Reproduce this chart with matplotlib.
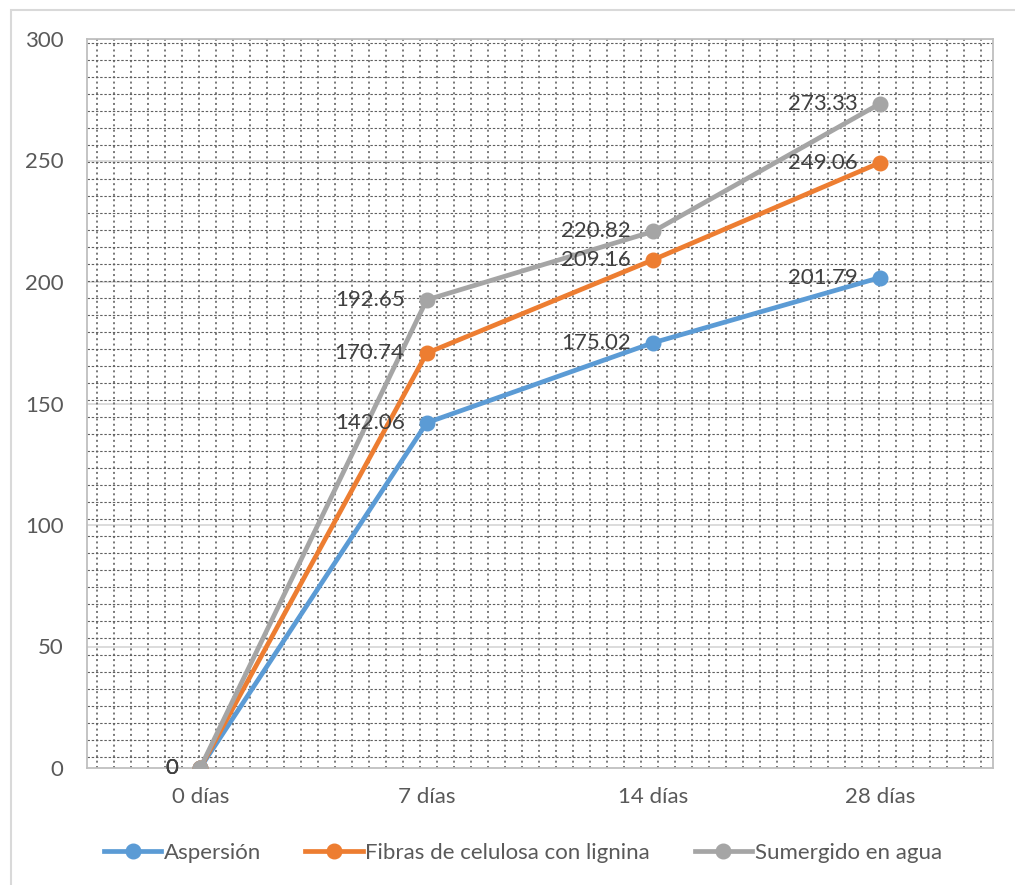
import numpy as np
import matplotlib.pyplot as plt
from matplotlib.patches import Rectangle
from matplotlib.lines import Line2D

plt.rcParams['font.family'] = ['Lato', 'DejaVu Sans']

# Compressive strength by curing method
categories = ["0 días", "7 días", "14 días", "28 días"]
aspersion = [0, 142.06, 175.02, 201.79]
fibras = [0, 170.74, 209.16, 249.06]
sumergido = [0, 192.65, 220.82, 273.33]

series = [
    ("Aspersión", aspersion, "#5B9BD5"),
    ("Fibras de celulosa con lignina", fibras, "#ED7D31"),
    ("Sumergido en agua", sumergido, "#A5A5A5"),
]

W, H = 1015, 885
fig = plt.figure(figsize=(W / 100, H / 100), dpi=100)
ax_left, ax_right, ax_top, ax_bottom = 87, 993, 39, 768
ax = fig.add_axes([ax_left / W, 1 - ax_bottom / H,
                   (ax_right - ax_left) / W, (ax_bottom - ax_top) / H])

# outer chart frame
fig.add_artist(Rectangle((11 / W, -0.1), 1.2, 1.1 - 9.5 / H,
                         transform=fig.transFigure, fill=False,
                         ec="#d9d9d9", lw=1.5))

x = np.arange(len(categories))
ax.set_xlim(-0.5, len(categories) - 0.5)
ax.set_ylim(0, 300)
ax.set_yticks(np.arange(0, 301, 50))
ax.set_xticks(x)
ax.set_xticklabels(categories)

# major gridlines
for yv in np.arange(50, 301, 50):
    ax.axhline(yv, color="#d9d9d9", lw=1.3, zorder=1)

# dotted-grid pattern fill of the plot area (17 px cells)
cell = 17.0
aw, ah = ax_right - ax_left, ax_bottom - ax_top
for px in np.arange(10, aw, cell):
    ax.plot([px / aw, px / aw], [0, 1], transform=ax.transAxes,
            color="#555555", lw=1.1, ls=(0, (1.3, 2.2)), zorder=2)
for py in np.arange(11, ah, cell):
    ax.plot([0, 1], [py / ah, py / ah], transform=ax.transAxes,
            color="#606060", lw=0.8, ls=(0, (2.2, 1.6)), zorder=2)

for name, vals, col in series:
    ax.plot(x, vals, color=col, lw=3.4, marker="o", ms=10.5,
            solid_capstyle="round", label=name, zorder=4)

for name, vals, col in series:
    for xi, v in zip(x, vals):
        txt = f"{v:.2f}" if v else "0"
        ax.annotate(txt, (xi, v), xytext=(-16, 0), textcoords="offset points",
                    ha="right", va="center", fontsize=16, color="#404040",
                    zorder=5)

for s in ax.spines.values():
    s.set_color("#bfbfbf")
    s.set_linewidth(1.3)
ax.tick_params(axis="both", length=0, labelsize=16, labelcolor="#595959")
ax.tick_params(axis="y", pad=17)
ax.tick_params(axis="x", pad=14)

handles = [Line2D([0], [0], color=c, lw=3.4, marker="o", ms=10.5)
           for _, _, c in series]
fig.legend(handles, [n for n, _, _ in series], loc="center",
           bbox_to_anchor=(0.515, 1 - 853 / H), ncol=3, frameon=False,
           fontsize=16, handlelength=2.6, handletextpad=0.1,
           columnspacing=2.0, labelcolor="#595959")

fig.savefig("out.png", dpi=100)
